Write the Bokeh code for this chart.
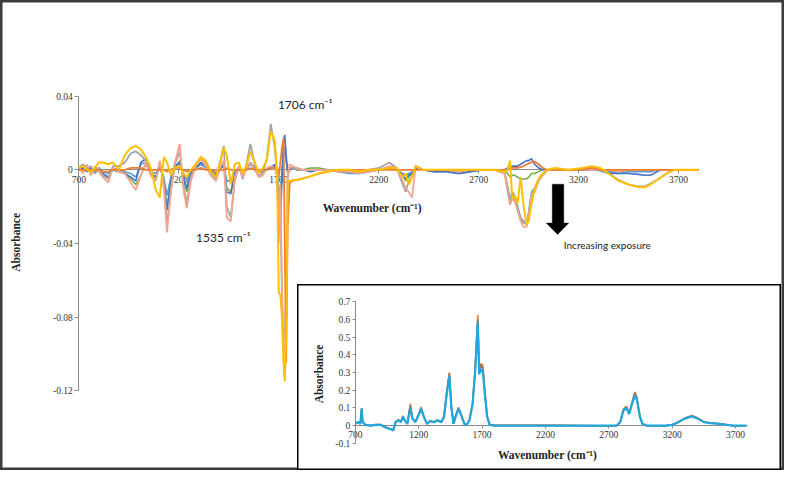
from math import pi
from bokeh.plotting import figure
from bokeh.models import (Range1d, LinearAxis, FixedTicker, CustomJSTickFormatter,
                          Label, PolyAnnotation)
from bokeh.layouts import column
from bokeh.embed import file_html
from bokeh.resources import INLINE

# ---------------- main (difference) spectra ----------------
main_wn = [700, 720, 740, 760, 780, 800, 820, 847, 870, 900,
           930, 960, 985, 1010, 1035, 1060, 1085, 1105, 1125, 1141,
           1160, 1180, 1205, 1222, 1240, 1260, 1285, 1310, 1335, 1360,
           1385, 1410, 1425, 1440, 1460, 1480, 1500, 1520, 1540, 1558,
           1580, 1600, 1620, 1640, 1660, 1680, 1692, 1700, 1708, 1716,
           1724, 1730, 1737, 1745, 1755, 1770, 1790, 1820, 1860, 1900,
           1950, 2000, 2050, 2100, 2150, 2200, 2254, 2290, 2320, 2335,
           2350, 2367, 2385, 2420, 2480, 2540, 2600, 2660, 2720, 2780,
           2830, 2845, 2857, 2868, 2880, 2895, 2910, 2925, 2940, 2950,
           2965, 2980, 3000, 3020, 3045, 3080, 3150, 3220, 3265, 3310,
           3350, 3400, 3450, 3500, 3530, 3560, 3600, 3640, 3680, 3740, 3800]

main_blue = [0, 0.001, -0.001, 0.001, -0.002, 0.001, -0.002, -0.004, 0.000, -0.001,
             -0.002, -0.004, -0.006, 0.004, 0.006, -0.002, -0.004, 0.003, -0.006, -0.022,
             -0.006, 0.002, 0.004, -0.004, -0.010, -0.002, 0.001, 0.004, 0.002, -0.001,
             -0.003, 0.001, 0.003, -0.012, -0.013, -0.002, 0.001, -0.002, 0.001, 0.004,
             0.001, -0.001, -0.001, 0.000, 0.001, 0.003, -0.004, -0.024, -0.030, -0.004,
             0.016, 0.019, 0.008, -0.002, 0.000, 0.001, 0.000, 0.000, -0.001, 0.000,
             0.000, -0.001, -0.001, -0.002, -0.001, 0.000, 0.001, 0.000, -0.003, -0.005,
             -0.003, -0.002, 0.001, 0.000, -0.001, -0.001, -0.002, -0.001, 0.000, 0.000,
             0.000, 0.001, 0.001, 0.002, 0.002, 0.002, 0.003, 0.004, 0.005, 0.005,
             0.006, 0.003, 0.001, 0.000, 0.000, 0.000, 0.000, 0.000, 0.000, -0.0005,
             -0.002, -0.002, -0.002, -0.0025, -0.003, -0.003, -0.0005, 0.000, 0.000, 0.000, 0.000]

main_orange = [0, 0, 0, 0, 0, 0, -0.001, -0.001, 0, 0,
               0, 0.001, 0.001, 0.001, 0, 0, 0, 0, 0, -0.001,
               0, 0.001, 0.001, 0, -0.001, 0, 0, 0.001, 0, 0,
               -0.001, 0, 0, 0.001, 0, 0, 0, 0, 0, 0.001,
               0, 0, 0, 0, 0.001, 0.001, 0.001, -0.004, 0.004, 0.012,
               0.017, -0.040, -0.105, -0.030, -0.007, -0.006, -0.0055, -0.0048, -0.0035, -0.002,
               -0.001, 0, 0, 0, 0, 0, 0, 0, 0, 0,
               0, 0, 0, 0, 0, 0, 0, 0, 0, 0,
               0, 0, 0.0005, 0.001, 0.001, 0.001, 0.0015, 0.002, 0.003, 0.0035,
               0.004, 0.0045, 0.003, 0.001, 0, 0, 0, 0, 0.001, 0,
               0, 0, 0, 0, 0, 0, 0, 0, 0, 0, 0]

main_gray = [0.001, 0.003, 0.001, 0.002, -0.002, 0.001, -0.003, -0.005, 0.002, 0.002,
             0.004, 0.009, 0.010, 0.008, 0.005, -0.002, -0.006, 0.004, -0.006, -0.030,
             -0.012, 0.003, 0.010, -0.008, -0.018, -0.004, 0.003, 0.007, 0.004, -0.002,
             -0.005, 0.006, 0.013, -0.020, -0.026, -0.006, 0.002, -0.005, 0.004, 0.014,
             0.003, -0.003, -0.002, 0.006, 0.025, 0.012, -0.004, -0.035, -0.012, -0.070,
             -0.095, -0.100, -0.060, -0.004, 0.001, 0.001, 0, 0, 0, 0,
             0, 0, -0.001, -0.001, 0, 0.001, 0.004, 0.001, -0.008, -0.012,
             -0.006, -0.004, 0.002, 0, 0, 0, -0.001, 0, 0, 0,
             -0.002, -0.010, -0.018, -0.014, -0.016, -0.022, -0.027, -0.029, -0.029, -0.024,
             -0.013, -0.011, -0.006, -0.003, 0, 0, 0, 0.0005, 0.0015, 0,
             -0.002, -0.0055, -0.008, -0.009, -0.009, -0.0075, -0.005, -0.002, 0, 0, 0]

main_yellow = [0.001, 0.002, 0, -0.001, 0.001, 0.004, 0.004, 0.003, 0.004, 0,
               0.008, 0.012, 0.013, 0.011, 0.007, 0.001, -0.011, -0.015, 0.007, 0.004,
               -0.003, 0.001, 0.002, -0.002, -0.004, 0, 0.003, 0.007, 0.005, -0.001,
               -0.004, 0.005, 0.012, 0.008, -0.008, 0.003, 0.004, -0.002, 0.003, 0.010,
               0.004, -0.002, 0.001, 0.005, 0.021, 0.016, -0.002, -0.067, -0.068, -0.080,
               -0.105, -0.115, -0.090, -0.006, -0.006, -0.0055, -0.0055, -0.0048, -0.0035, -0.002,
               -0.0008, 0, 0, -0.001, 0, 0, 0.001, 0.001, -0.004, -0.002,
               -0.008, -0.004, 0.002, 0, 0, 0, 0, 0, 0, 0,
               -0.001, 0, 0.005, -0.016, -0.014, -0.018, -0.004, -0.020, -0.030, -0.028,
               -0.018, -0.010, -0.005, -0.002, 0, 0.001, 0, 0.001, 0.002, 0.001,
               -0.002, -0.006, -0.008, -0.0095, -0.0095, -0.008, -0.005, -0.002, 0, 0, 0]

main_lightblue = [0, 0.001, 0, 0.001, -0.001, 0.001, -0.001, -0.002, 0.001, 0,
                  -0.001, -0.002, -0.004, 0.003, 0.004, -0.001, -0.002, 0.002, -0.004, -0.014,
                  -0.004, 0.002, 0.003, -0.002, -0.006, -0.001, 0.001, 0.003, 0.001, 0,
                  -0.002, 0.001, 0.002, -0.006, -0.006, -0.001, 0.001, -0.001, 0.001, 0.003,
                  0.001, -0.001, 0, 0, 0.001, 0.002, -0.002, -0.010, -0.012, -0.002,
                  0.008, 0.012, 0.005, -0.001, 0, 0.001, 0, 0, 0, 0,
                  0, -0.001, -0.002, -0.002, -0.001, 0, 0.001, 0, -0.002, -0.003,
                  -0.002, -0.001, 0.001, 0, -0.001, -0.001, -0.002, -0.001, 0, 0,
                  -0.001, -0.009, -0.016, -0.012, -0.014, -0.020, -0.026, -0.028, -0.030, -0.023,
                  -0.012, -0.010, -0.005, -0.002, 0, 0, 0, 0, 0, 0,
                  -0.001, -0.002, -0.001, -0.001, -0.001, -0.001, 0, 0, 0, 0, 0]

main_green = [0, 0.001, -0.001, 0, -0.002, 0.001, -0.003, -0.004, 0, -0.001,
              -0.002, -0.005, -0.008, -0.003, 0.003, -0.002, -0.004, 0.002, -0.006, -0.020,
              -0.008, 0.001, 0.005, -0.005, -0.012, -0.003, 0.001, 0.004, 0.002, -0.001,
              -0.003, 0.001, 0.002, -0.010, -0.012, -0.002, 0.001, -0.002, 0.001, 0.003,
              0.001, -0.001, -0.001, 0, 0.001, 0.002, -0.002, -0.015, -0.018, -0.004,
              0.010, 0.012, 0.005, -0.001, 0, 0.001, 0.001, 0, 0.001, 0.001,
              0, 0, -0.001, -0.001, 0, 0, 0.001, 0, -0.003, -0.006,
              -0.004, -0.002, 0.001, 0, -0.001, 0, -0.001, 0, 0, 0,
              0, -0.002, -0.004, -0.003, -0.003, -0.004, -0.005, -0.005, -0.005, -0.004,
              -0.002, -0.002, -0.001, 0, 0, 0, 0, 0, 0, 0,
              -0.001, -0.001, 0, 0, 0, 0, 0, 0, 0, 0, 0]

main_pink = [0.002, -0.002, 0.003, -0.003, 0.002, -0.001, -0.004, -0.007, 0.001, -0.001,
             -0.002, -0.007, -0.011, -0.003, 0.004, -0.003, -0.006, 0.005, -0.010, -0.034,
             -0.012, 0.004, 0.014, -0.010, -0.021, -0.006, 0.002, 0.006, 0.002, -0.003,
             -0.006, 0.002, 0.005, -0.026, -0.028, -0.004, 0.002, -0.004, 0.001, 0.004,
             0, -0.004, -0.003, 0.001, 0.002, 0.001, -0.004, -0.040, -0.008, -0.065,
             -0.092, -0.100, -0.070, -0.002, 0.003, 0.002, 0.001, 0, 0, 0,
             0, -0.001, -0.001, -0.002, -0.001, 0, 0.002, 0.001, -0.006, -0.010,
             -0.012, -0.015, 0.002, 0, 0, 0, -0.001, 0, 0, 0,
             -0.002, -0.012, -0.019, -0.016, -0.017, -0.022, -0.028, -0.031, -0.031, -0.026,
             -0.014, -0.012, -0.006, -0.003, 0, 0, 0, 0, 0, 0,
             0, -0.001, 0, 0, 0, 0, 0, 0, 0, 0, 0]

main_xticks = [700, 1200, 1700, 2200, 2700, 3200, 3700]
main_yticks = [-0.12, -0.08, -0.04, 0, 0.04]

# ---------------- inset (absorbance spectra) ----------------
inset_wn = [700, 720, 740, 750, 758, 780, 820, 860, 900, 940,
            980, 1000, 1018, 1040, 1060, 1075, 1090, 1110, 1134, 1150,
            1173, 1200, 1219, 1240, 1266, 1290, 1320, 1350, 1380, 1400,
            1420, 1442, 1458, 1475, 1495, 1514, 1535, 1560, 1580, 1600,
            1625, 1645, 1666, 1677, 1690, 1707, 1720, 1740, 1760, 1800,
            2000, 2300, 2600, 2760, 2790, 2815, 2839, 2860, 2880, 2905,
            2920, 2945, 2965, 3000, 3150, 3200, 3250, 3300, 3355, 3400,
            3450, 3500, 3570, 3640, 3680, 3785]

inset_orange = [0.012, 0.022, 0.012, 0.100, 0.022, 0.006, 0.001, 0.006, 0.006, -0.008,
                -0.018, -0.022, 0.024, 0.034, 0.024, 0.055, 0.034, 0.012, 0.125, 0.045,
                0.022, 0.065, 0.105, 0.055, 0.012, 0.028, 0.022, 0.033, 0.022, 0.055,
                0.190, 0.300, 0.110, 0.012, 0.065, 0.102, 0.065, 0.012, 0.006, 0.033,
                0.130, 0.320, 0.625, 0.320, 0.350, 0.340, 0.210, 0.055, 0.006, 0.004,
                0.003, 0.004, 0.000, 0.000, 0.022, 0.095, 0.110, 0.070, 0.125, 0.190,
                0.165, 0.055, 0.012, 0.000, 0.000, 0.006, 0.022, 0.043, 0.057, 0.045,
                0.022, 0.016, 0.012, 0.005, 0.000, 0.000]

inset_gray = [0.011, 0.021, 0.011, 0.098, 0.021, 0.005, 0.000, 0.005, 0.005, -0.012,
              -0.022, -0.028, 0.022, 0.032, 0.022, 0.052, 0.032, 0.011, 0.115, 0.042,
              0.021, 0.062, 0.100, 0.052, 0.011, 0.026, 0.021, 0.031, 0.021, 0.052,
              0.180, 0.295, 0.105, 0.011, 0.062, 0.100, 0.062, 0.011, 0.005, 0.031,
              0.125, 0.310, 0.600, 0.300, 0.345, 0.320, 0.200, 0.052, 0.005, 0.000,
              0.000, 0.000, 0.000, 0.000, 0.021, 0.090, 0.105, 0.068, 0.120, 0.185,
              0.160, 0.052, 0.011, 0.000, 0.000, 0.005, 0.021, 0.042, 0.055, 0.042,
              0.021, 0.015, 0.011, 0.004, 0.000, 0.000]

inset_cyan = [0.010, 0.020, 0.010, 0.095, 0.020, 0.005, 0.000, 0.005, 0.005, -0.010,
              -0.020, -0.025, 0.020, 0.030, 0.020, 0.050, 0.030, 0.010, 0.100, 0.040,
              0.020, 0.060, 0.095, 0.050, 0.010, 0.025, 0.020, 0.030, 0.020, 0.050,
              0.170, 0.280, 0.100, 0.010, 0.060, 0.095, 0.060, 0.010, 0.005, 0.030,
              0.120, 0.300, 0.580, 0.290, 0.320, 0.300, 0.190, 0.050, 0.005, 0.000,
              0.000, 0.000, 0.000, 0.000, 0.020, 0.085, 0.100, 0.065, 0.115, 0.170,
              0.150, 0.050, 0.010, 0.000, 0.000, 0.005, 0.020, 0.040, 0.052, 0.040,
              0.020, 0.014, 0.010, 0.004, 0.000, 0.000]

inset_xticks = [700, 1200, 1700, 2200, 2700, 3200, 3700]
inset_yticks = [-0.1, 0, 0.1, 0.2, 0.3, 0.4, 0.5, 0.6, 0.7]

SERIF = "Liberation Serif"
SANS = "Lato"
AXIS_GRAY = "#8a8a8a"
TICK_TXT = "#333333"
fmt_code = "return String(Math.round(tick*1000)/1000);"

# ---------------- main figure ----------------
p = figure(width=784, height=470, x_range=Range1d(308, 4230), y_range=Range1d(-0.1634, 0.0920),
           min_border=0, output_backend="svg", toolbar_location=None,
           x_axis_location=None, y_axis_location=None)
p.outline_line_color = "#3c3c3c"
p.outline_line_width = 4
p.background_fill_color = "white"
p.border_fill_color = "white"
p.grid.visible = False

main_series = [(main_green, "#70AD47", 1.5), (main_lightblue, "#5B9BD5", 1.6),
               (main_blue, "#4472C4", 1.6), (main_gray, "#A5A5A5", 1.8),
               (main_pink, "#F2A58E", 1.8), (main_orange, "#ED7D31", 1.8),
               (main_yellow, "#FFC000", 2.0)]
for ys, col, lw in main_series:
    p.line(main_wn, ys, line_color=col, line_width=lw)

xax = LinearAxis(fixed_location=0, ticker=FixedTicker(ticks=main_xticks), bounds=(700, 3800))
yax = LinearAxis(fixed_location=700, ticker=FixedTicker(ticks=main_yticks), bounds=(-0.12, 0.04),
                 formatter=CustomJSTickFormatter(code=fmt_code))
for ax in (xax, yax):
    ax.axis_line_color = AXIS_GRAY
    ax.axis_line_width = 1
    ax.major_tick_line_color = AXIS_GRAY
    ax.major_tick_out = 4
    ax.major_tick_in = 0
    ax.minor_tick_line_color = None
    ax.major_label_text_font = SERIF
    ax.major_label_text_font_size = "9.5px"
    ax.major_label_text_color = TICK_TXT
    ax.major_label_standoff = 2
    ax.level = "underlay"
p.add_layout(xax, "below")
p.add_layout(yax, "left")

p.add_layout(Label(x=2175, y=-0.0205, text="Wavenumber  (cm\u207b\u00b9)", text_font=SERIF,
                   text_font_style="bold", text_font_size="11.5px", text_color="#222222",
                   text_align="center", text_baseline="middle"))
p.add_layout(Label(x=386, y=-0.0394, text="Absorbance", text_font=SERIF, angle=pi / 2,
                   text_font_style="bold", text_font_size="11.5px", text_color="#222222",
                   text_align="center", text_baseline="middle"))
p.add_layout(Label(x=1832, y=0.0353, text="1706 cm\u207b\u00b9", text_font=SANS,
                   text_font_size="12px", text_color="#222222",
                   text_align="center", text_baseline="middle"))
p.add_layout(Label(x=1423, y=-0.0368, text="1535 cm\u207b\u00b9", text_font=SANS,
                   text_font_size="12px", text_color="#222222",
                   text_align="center", text_baseline="middle"))
p.add_layout(Label(x=3126, y=-0.041, text="Increasing exposure", text_font=SANS,
                   text_font_size="10px", text_color="#222222",
                   text_align="left", text_baseline="middle"))
p.add_layout(PolyAnnotation(xs=[3068, 3126, 3126, 3151, 3095, 3038, 3068],
                            ys=[-0.0078, -0.0078, -0.0289, -0.0289, -0.0352, -0.0289, -0.0289],
                            fill_color="black", fill_alpha=1, line_color="black", line_width=1))

# ---------------- inset figure ----------------
q = figure(width=484, height=186, x_range=Range1d(244, 4062), y_range=Range1d(-0.2528, 0.7968),
           min_border=0, output_backend="svg", toolbar_location=None,
           x_axis_location=None, y_axis_location=None)
q.outline_line_color = "black"
q.outline_line_width = 2
q.background_fill_color = "white"
q.border_fill_color = "white"
q.grid.visible = False

for ys, col, lw in [(inset_orange, "#ED7D31", 1.6), (inset_gray, "#7F7F7F", 1.6),
                    (inset_cyan, "#1FA7E1", 2.2)]:
    q.line(inset_wn, ys, line_color=col, line_width=lw)

qx = LinearAxis(fixed_location=0, ticker=FixedTicker(ticks=inset_xticks), bounds=(700, 3790))
qy = LinearAxis(fixed_location=700, ticker=FixedTicker(ticks=inset_yticks), bounds=(-0.1, 0.7),
                formatter=CustomJSTickFormatter(code=fmt_code))
for ax in (qx, qy):
    ax.axis_line_color = AXIS_GRAY
    ax.major_tick_line_color = AXIS_GRAY
    ax.major_tick_out = 3
    ax.major_tick_in = 0
    ax.minor_tick_line_color = None
    ax.major_label_text_font = SERIF
    ax.major_label_text_font_size = "9.5px"
    ax.major_label_text_color = TICK_TXT
    ax.major_label_standoff = 2
    ax.level = "underlay"
q.add_layout(qx, "below")
q.add_layout(qy, "left")

q.add_layout(Label(x=2227, y=-0.1637, text="Wavenumber  (cm\u207b\u00b9)", text_font=SERIF,
                   text_font_style="bold", text_font_size="11.5px", text_color="#222222",
                   text_align="center", text_baseline="middle"))
q.add_layout(Label(x=414, y=0.292, text="Absorbance", text_font=SERIF, angle=pi / 2,
                   text_font_style="bold", text_font_size="11.5px", text_color="#222222",
                   text_align="center", text_baseline="middle"))

q.margin = (-186, 0, 0, 297)
layout = column(p, q, spacing=0)

open("out.html", "w").write(file_html(layout, INLINE))
